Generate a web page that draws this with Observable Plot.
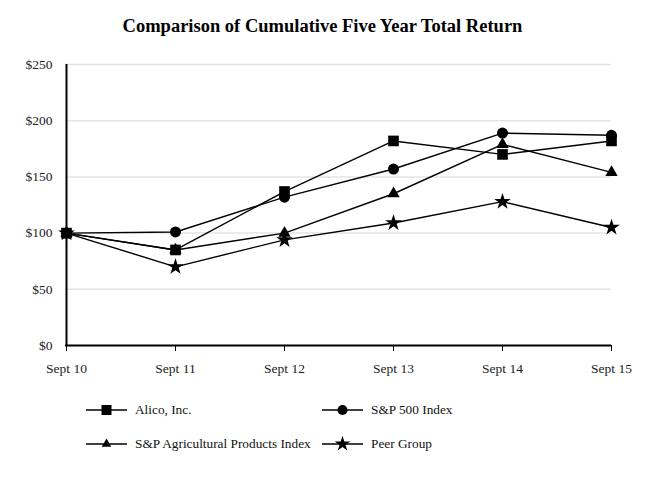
<!DOCTYPE html>
<html>
<head>
<meta charset="utf-8">
<script src="https://cdn.jsdelivr.net/npm/d3@7"></script>
<script src="https://cdn.jsdelivr.net/npm/@observablehq/plot@0.6"></script>
<style>
  body { margin: 0; background: #fff; font-family: "Liberation Serif", "DejaVu Serif", serif; }
  #title { height: 50px; line-height: 52px; text-align: center; font-weight: bold; font-size: 18.5px; color: #000; }
  #legend { position: relative; height: 100px; font-size: 13.3px; color: #111; }
  .item { position: absolute; display: flex; align-items: center; }
  .item svg { margin-right: 8px; }
</style>
</head>
<body>
<div id="title">Comparison of Cumulative Five Year Total Return</div>
<div id="chart"></div>
<div id="legend"></div>
<script>
const years = ["Sept 10", "Sept 11", "Sept 12", "Sept 13", "Sept 14", "Sept 15"];
const seriesNames = ["Alico, Inc.", "S&P 500 Index", "S&P Agricultural Products Index", "Peer Group"];
const seriesSymbols = ["square", "circle", "triangle", "star"];
const alico = [100, 85, 137, 182, 170, 182];
const sp500 = [100, 101, 132, 157, 189, 187];
const agri  = [100, 85, 100, 135, 179, 154];
const peer  = [100, 70, 94, 109, 128, 105];
const yTicks = [0, 50, 100, 150, 200, 250];

const valuesBySeries = [alico, sp500, agri, peer];
const rows = [];
for (let s = valuesBySeries.length - 1; s >= 0; s--) {
  valuesBySeries[s].forEach((v, i) => rows.push({series: seriesNames[s], symbol: seriesSymbols[s], year: years[i], value: v}));
}
const radius = {square: 6, circle: 5.5, triangle: 4.6, star: 5.2};

const chart = Plot.plot({
  width: 645,
  height: 330,
  marginTop: 14,
  marginBottom: 35,
  marginLeft: 65,
  marginRight: 34,
  style: {fontFamily: "Liberation Serif, serif", fontSize: "13.5px", color: "#000", background: "#fff"},
  x: {type: "point", domain: years, padding: 0, label: null},
  y: {domain: [0, 250], ticks: yTicks, tickFormat: d => "$" + d, label: null},
  symbol: {domain: seriesSymbols, range: seriesSymbols},
  marks: [
    Plot.gridY(yTicks, {stroke: "#e4e4e4", strokeOpacity: 1, strokeWidth: 1.5}),
    Plot.axisY(yTicks, {tickSize: 0, tickPadding: 13, tickFormat: d => "$" + d, label: null, fill: "#222"}),
    Plot.axisX({tickSize: 6, tickPadding: 12, label: null, stroke: "#000", fill: "#222"}),
    Plot.ruleX([years[0]], {stroke: "#000", strokeWidth: 2}),
    Plot.ruleY([0], {stroke: "#000", strokeWidth: 2}),
    ...seriesNames.slice().reverse().map((name, k) => {
      const sym = seriesSymbols[seriesNames.length - 1 - k];
      const data = rows.filter(d => d.series === name);
      return [
        Plot.line(data, {x: "year", y: "value", stroke: "#000", strokeWidth: 1.4}),
        Plot.dot(data, {x: "year", y: "value", symbol: "symbol", fill: "#000", stroke: "none", r: radius[sym]})
      ];
    }).flat()
  ]
});
document.getElementById("chart").appendChild(chart);

// legend
const legend = document.getElementById("legend");
const positions = [[86, 30], [322, 30], [86, 64], [322, 64]];
const symMap = {square: d3.symbolSquare, circle: d3.symbolCircle, triangle: d3.symbolTriangle, star: d3.symbolStar};
const legendSize = {square: 100, circle: 80, triangle: 40, star: 75};
seriesNames.forEach((name, i) => {
  const div = document.createElement("div");
  div.className = "item";
  div.style.left = positions[i][0] + "px";
  div.style.top = (positions[i][1] - 10) + "px";
  const svg = d3.create("svg").attr("width", 41).attr("height", 20);
  svg.append("line").attr("x1", 0).attr("x2", 41).attr("y1", 10).attr("y2", 10).attr("stroke", "#000").attr("stroke-width", 1.5);
  svg.append("path").attr("transform", "translate(20.5,10)").attr("d", d3.symbol(symMap[seriesSymbols[i]], legendSize[seriesSymbols[i]])()).attr("fill", "#000");
  div.appendChild(svg.node());
  const span = document.createElement("span");
  span.textContent = name;
  div.appendChild(span);
  legend.appendChild(div);
});
</script>
</body>
</html>
